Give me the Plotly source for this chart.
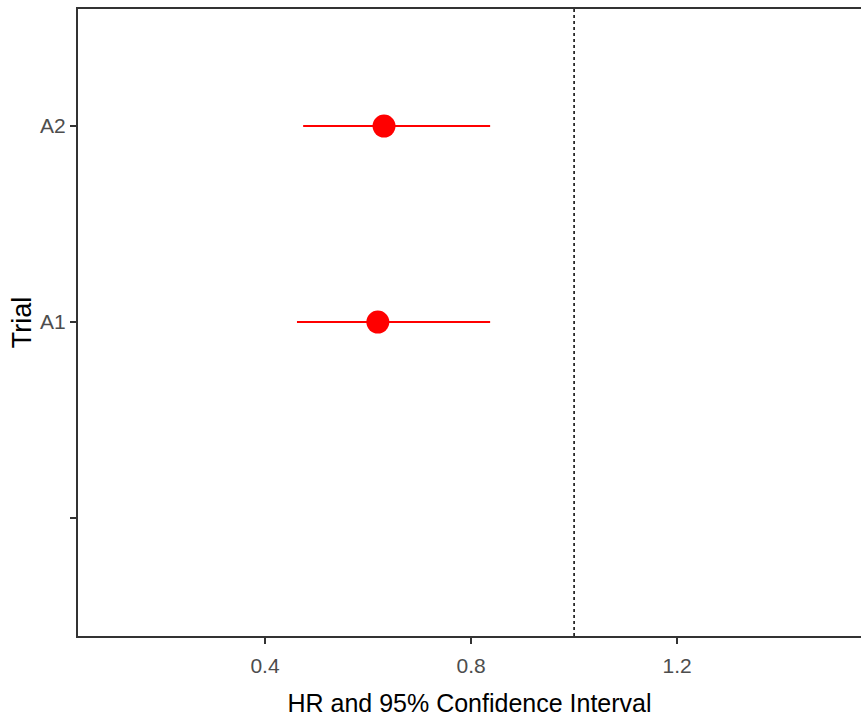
import plotly.graph_objects as go

trials = ["A1", "A2"]
trial_pos = [1, 2]
hr = [0.619, 0.631]
ci_low = [0.462, 0.474]
ci_high = [0.837, 0.837]
ytick_vals = [0, 1, 2]
ytick_text = ["", "A1", "A2"]
xtick_vals = [0.4, 0.8, 1.2]
xtick_text = ["0.4", "0.8", "1.2"]
ref_line = 1.0

FONT = "Liberation Sans, Arial, sans-serif"

fig = go.Figure()
fig.add_trace(go.Scatter(
    x=hr, y=trial_pos, mode="markers", text=trials,
    marker=dict(color="red", size=23, symbol="circle"),
    error_x=dict(type="data", symmetric=False,
                 array=[h - m for h, m in zip(ci_high, hr)],
                 arrayminus=[m - l for m, l in zip(hr, ci_low)],
                 color="red", thickness=2, width=0),
    showlegend=False, hoverinfo="x+text",
))

fig.add_shape(type="line", xref="x", yref="paper", x0=ref_line, x1=ref_line, y0=0, y1=1,
              line=dict(color="black", width=1.5, dash="dot"), layer="below")

fig.update_layout(
    width=861, height=719,
    margin=dict(l=78, r=0, t=9, b=83, autoexpand=False),
    plot_bgcolor="white", paper_bgcolor="white",
    font=dict(family=FONT),
    xaxis=dict(range=[0.0369, 1.557], tickvals=xtick_vals, ticktext=xtick_text,
               showgrid=False, zeroline=False, showline=True, linecolor="#333333", linewidth=2.2,
               mirror=True, ticks="outside", ticklen=6, tickwidth=1.5, tickcolor="#333333",
               tickfont=dict(size=21, color="#4d4d4d", family=FONT), automargin=False,
               ticklabelstandoff=4,
               title=dict(text="HR and 95% Confidence Interval",
                          font=dict(size=25, color="black", family=FONT), standoff=18)),
    yaxis=dict(range=[-0.602, 2.597], tickvals=ytick_vals, ticktext=ytick_text,
               showgrid=False, zeroline=False, showline=True, linecolor="#333333", linewidth=2.2,
               ticks="outside", ticklen=6, tickwidth=1.5, tickcolor="#333333",
               tickfont=dict(size=21, color="#4d4d4d", family=FONT), automargin=False,
               title=dict(text="Trial", font=dict(size=27, color="black", family=FONT), standoff=1)),
)

fig.write_html("out.html", config={"displayModeBar": False},
               post_script="document.body.style.margin='0';document.body.style.overflow='hidden';")
